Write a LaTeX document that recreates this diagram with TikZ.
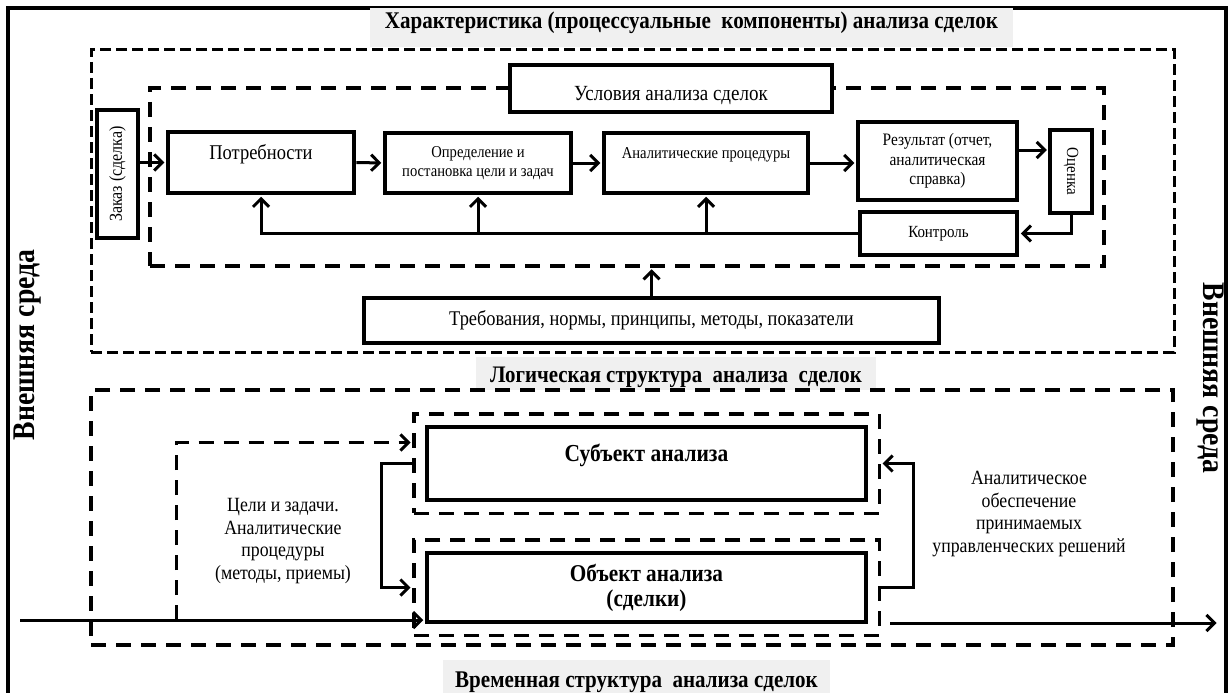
\documentclass[tikz,border=0pt]{standalone}
\usepackage{graphicx}
\usepackage{fontspec}
\setmainfont{Liberation Serif}[FakeStretch=0.88]
\usetikzlibrary{arrows.meta, positioning, fit}
\tikzstyle{stage} = [rectangle, draw=black, line width=4.5pt, fill=white, align=center, inner sep=0pt, font=\fontsize{17}{19}\selectfont]
\tikzstyle{narrow} = [stage, line width=3.5pt]
\tikzstyle{zone} = [rectangle, draw=black, line width=3.5pt, dash pattern=on 15pt off 10pt, inner sep=0pt]
\tikzstyle{outerzone} = [rectangle, draw=black, line width=3pt, dash pattern=on 11pt off 5pt, inner sep=0pt]
\tikzstyle{heading} = [fill=gray!12, font=\bfseries\fontsize{23.9}{26}\selectfont, inner xsep=0pt, inner ysep=0pt]
\tikzstyle{note} = [align=center, font=\fontsize{20.2}{22.5}\selectfont]
\tikzstyle{side} = [font=\bfseries\fontsize{31.5}{32}\selectfont]
\tikzstyle{arrow} = [line width=3pt, -{Straight Barb[length=8pt,width=16pt]}, shorten >=1.5pt]
\tikzstyle{dasharrow} = [arrow, dash pattern=on 15pt off 10pt]

\begin{document}
\begin{tikzpicture}[x=1pt, y=-1pt]
\useasboundingbox (0,0) rectangle (1232,693);

% frame
\draw [line width=4pt] (8,693) -- (8,8) -- (1226,8) -- (1226,693);

% headings
\node (headA) [heading, minimum width=643, text height=20pt, text depth=19pt, anchor=north] at (691.5,8) {Характеристика (процессуальные\ \ компоненты) анализа сделок};
\node (headB) [heading, minimum width=400, text height=25pt, text depth=8pt, anchor=north, font=\bfseries\fontsize{23.7}{26}\selectfont] at (676,357) {Логическая структура\ \ анализа\ \ сделок};
\node (headC) [heading, minimum width=387, text height=27pt, text depth=10pt, anchor=north] at (636.5,660) {Временная структура\ \ анализа сделок};

% process components
\node (zoneA) [outerzone, minimum width=1083, minimum height=302] at (632.5,201) {};
\node (zoneB) [zone, minimum width=954, minimum height=178] at (627,177) {};

\node (usl) [stage, minimum width=322, minimum height=47, text height=29pt, text depth=5pt, font=\fontsize{21.6}{22}\selectfont] at (671,88.5) {Условия анализа сделок};
\node (zakaz) [narrow, minimum width=41, minimum height=128, font=\fontsize{18.2}{18}\selectfont] at (117.5,174) {\rotatebox{90}{Заказ (сделка)}};
\node (potr) [stage, minimum width=186, minimum height=61, font=\fontsize{21}{22}\selectfont] at (261,162.5) {Потребности\\\mbox{}};
\node (opr) [stage, minimum width=186, minimum height=60, font=\fontsize{16.6}{19}\selectfont] at (478,163) {Определение и\\постановка цели и задач};
\node (anal) [stage, minimum width=204, minimum height=60, font=\fontsize{16.6}{19}\selectfont] at (706,163) {Аналитические процедуры\\\mbox{}};
\node (rez) [stage, minimum width=159, minimum height=78, font=\fontsize{17.5}{19.5}\selectfont] at (937.5,161) {Результат (отчет,\\аналитическая\\справка)};
\node (ocen) [narrow, minimum width=42, minimum height=83] at (1071,171.5) {\rotatebox{-90}{Оценка}};
\node (kontr) [stage, minimum width=157, minimum height=43] at (938.5,233.5) {Контроль};
\node (treb) [stage, minimum width=575, minimum height=45, font=\fontsize{20.9}{22}\selectfont] at (651.5,320.5) {Требования, нормы, принципы, методы, показатели};

\draw [arrow] (zakaz.east |- potr.west) -- (potr.west);
\draw [arrow] (potr) -- (opr);
\draw [arrow] (opr) -- (anal);
\draw [arrow] (anal.east) -- (anal.east -| rez.west);
\draw [arrow] ([yshift=11pt]rez.east) -- ([yshift=11pt]rez.east -| ocen.west);
\draw [arrow] (ocen.south) |- (kontr.east);
\draw [arrow] (kontr.west) -| (potr.south);
\draw [arrow] (opr.south |- kontr.west) -- (opr.south);
\draw [arrow] (anal.south |- kontr.west) -- (anal.south);
\draw [arrow] (treb.north) -- (treb.north |- zoneB.south);

% logical structure
\node (zoneC) [zone, minimum width=1082, minimum height=255] at (632,517.5) {};
\node (subj) [stage, minimum width=439, minimum height=73, font=\bfseries\fontsize{24.4}{22}\selectfont] at (646.5,463.5) {Субъект анализа\\\mbox{}};
\node (obj) [stage, minimum width=439, minimum height=69, font=\bfseries\fontsize{24.1}{25}\selectfont] at (646.5,587.5) {Объект анализа\\(сделки)};
\node (subjZ) [zone, fit=(subj), inner sep=11pt] {};
\node (objZ) [zone, fit=(obj), inner sep=11pt] {};

\node (goals) [note] at (283,541) {Цели и задачи.\\Аналитические\\процедуры\\(методы, приемы)};
\node (support) [note] at (1029,514) {Аналитическое\\обеспечение\\принимаемых\\управленческих решений};

\coordinate (inL) at (20,620);
\coordinate (turn) at (176,620);
\coordinate (outA) at (890,623);
\coordinate (outB) at (1218,623);

\draw [arrow] (inL) -- (inL -| obj.west);
\draw [dasharrow] (turn) |- ([yshift=21pt]subjZ.west);
\draw [arrow] (subjZ.west) -- ++(-31,0) |- (objZ.west);
\draw [arrow] (objZ.east) -- ++(32,0) |- (subjZ.east);
\draw [arrow] (outA) -- (outB);

% environment
\node (envL) [side, rotate=90] at (28,345) {Внешняя среда};
\node (envR) [side, rotate=-90] at (1210,378) {Внешняя среда};

\end{tikzpicture}
\end{document}
